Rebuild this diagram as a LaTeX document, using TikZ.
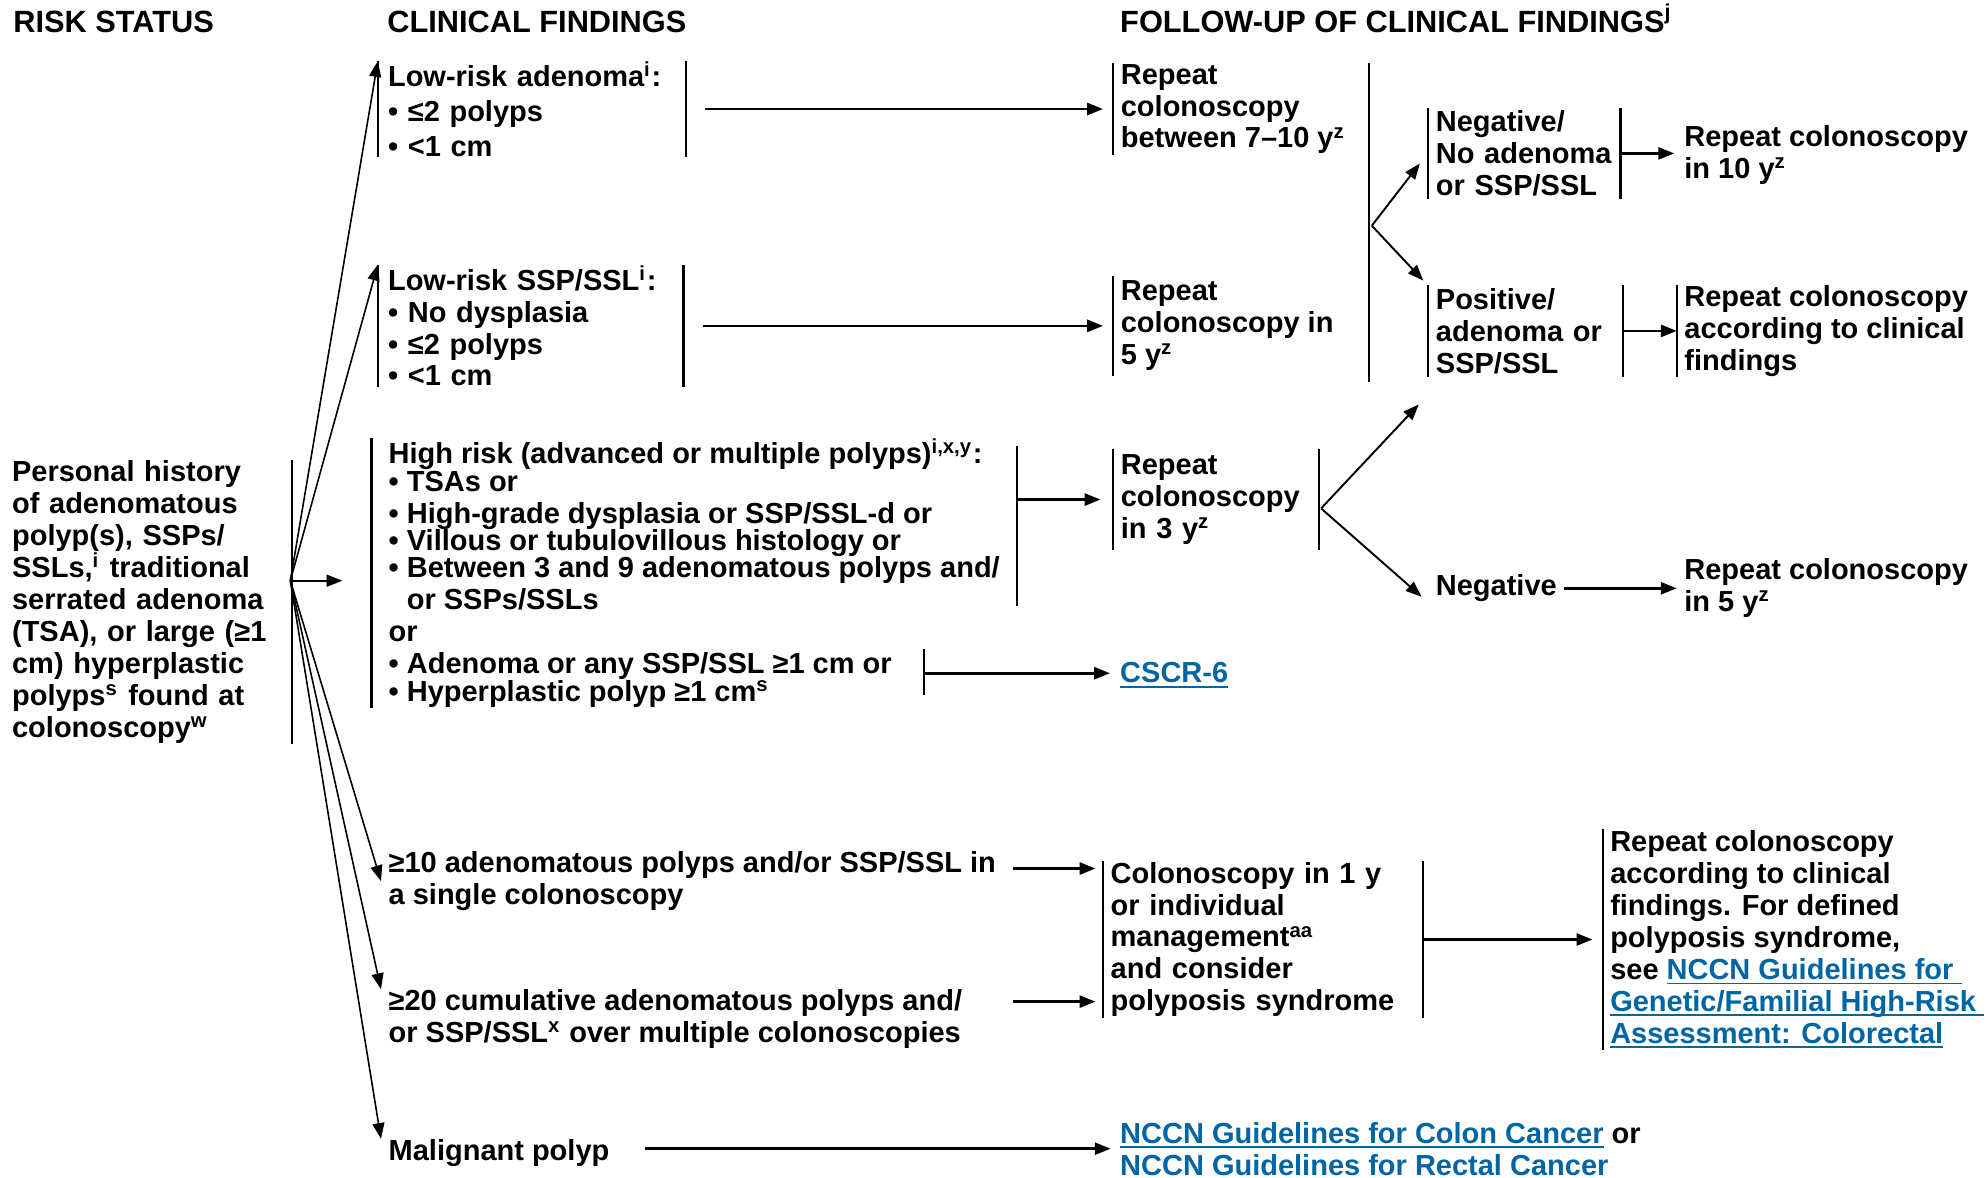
\documentclass[tikz,border=0pt]{standalone}
\usepackage{fontspec}
\setmainfont{Liberation Sans}
\usetikzlibrary{arrows.meta}
\definecolor{linkblue}{RGB}{0,101,163}
\newlength{\pxu}\setlength{\pxu}{0.12679mm}
\newcommand{\nodefont}{\fontsize{8.25}{9.1}\selectfont\bfseries}
% link text: blue, underlined at a fixed depth
\newcommand{\lnk}[1]{\textcolor{linkblue}{\setbox0\hbox{#1}\rlap{\rule[-1.3pt]{\wd0}{0.5pt}}\box0}}
\tikzset{
	txt/.style={font=\nodefont, align=left, anchor=west, inner xsep=5.5\pxu, inner ysep=0pt},
	head/.style={font=\fontsize{8.75}{10}\selectfont\bfseries, anchor=base west, inner sep=0pt},
	bar/.style={draw, line width=0.6pt},
	lbar/.style={append after command={(\tikzlastnode.north west) edge[bar] (\tikzlastnode.south west)}},
	rbar/.style={append after command={(\tikzlastnode.north east) edge[bar] (\tikzlastnode.south east)}},
	arr/.style={-{Triangle[length=4.5pt,width=3.4pt]}, line width=0.75pt},
	fanarr/.style={arr, line width=0.45pt},
	brarr/.style={arr, line width=0.55pt}
}
\begin{document}
\begin{tikzpicture}[x=0.12679mm, y=-0.12679mm]
	\useasboundingbox (0,0) rectangle (1568,929);
	% headings
	\node[head] (hRisk) at (10,26) {RISK STATUS};
	\node[head] (hFind) at (305,26) {CLINICAL FINDINGS};
	\node[head] (hFollow) at (883,26) {FOLLOW-UP OF CLINICAL FINDINGS\textsuperscript{j}};
	% risk status
	\node[txt, rbar, inner xsep=5\pxu, text width=215\pxu, minimum height=222\pxu] (hist) at (4,475)
		{Personal history\\of adenomatous\\polyp(s), SSPs/\\SSLs,\textsuperscript{i} traditional\\serrated adenoma\\(TSA), or large (≥1\\cm) hyperplastic\\polyps\textsuperscript{s} found at\\colonoscopy\textsuperscript{w}};
	\coordinate (fan) at (229,458);
	% clinical findings
	\node[txt, lbar, rbar, inner xsep=7.5\pxu, text width=227\pxu, minimum height=72\pxu] (lowAd) at (298,86)
		{Low-risk adenoma\textsuperscript{i}:\\[0.8pt]• ≤2 polyps\\[0.8pt]• <1 cm};
	\node[txt, lbar, rbar, inner xsep=7.5\pxu, text width=225\pxu, minimum height=92\pxu] (lowSsp) at (298,257)
		{Low-risk SSP/SSL\textsuperscript{i}:\\• No dysplasia\\• ≤2 polyps\\• <1 cm};
	\node[txt, lbar, inner xsep=13\pxu, minimum height=204\pxu] (high) at (293,452)
		{High risk (advanced or multiple polyps)\textsuperscript{i,x,y}:\\[-1.1pt]
		• TSAs or\\
		• High-grade dysplasia or SSP/SSL-d or\\[-1.4pt]
		• Villous or tubulovillous histology or\\[-1.4pt]
		• Between 3 and 9 adenomatous polyps and/\\
		\phantom{• }or SSPs/SSLs\\
		or\\
		• Adenoma or any SSP/SSL ≥1 cm or\\[-1.1pt]
		• Hyperplastic polyp ≥1 cm\textsuperscript{s}};
	\draw[bar] (802,352) -- (802,478);
	\draw[bar] (729,512) -- (729,548);
	\coordinate (highA) at (802,394);
	\coordinate (highB) at (729,531);
	\node[txt] (ten) at (300.5,695) {≥10 adenomatous polyps and/or SSP/SSL in\\a single colonoscopy};
	\node[txt] (twenty) at (300.5,804) {≥20 cumulative adenomatous polyps and/\\or SSP/SSL\textsuperscript{x} over multiple colonoscopies};
	\node[txt] (malig) at (300.5,909.5) {Malignant polyp};
	\coordinate (tenOut) at (799,685);
	\coordinate (twentyOut) at (799,790);
	\coordinate (maligOut) at (509,906);
	% follow-up
	\node[txt, lbar, minimum height=71\pxu] (rep710) at (878,86) {Repeat\\colonoscopy\\between 7–10 y\textsuperscript{z}};
	\node[txt, lbar, minimum height=78\pxu] (rep5) at (878,257) {Repeat\\colonoscopy in\\5 y\textsuperscript{z}};
	\node[txt, lbar, rbar, text width=150\pxu, minimum height=78\pxu] (rep3) at (878,394) {Repeat\\colonoscopy\\in 3 y\textsuperscript{z}};
	\node[txt] (cscr) at (877.5,532.5) {\lnk{CSCR-6}};
	\draw[bar] (1080,50) -- (1080,301);
	\coordinate (fu) at (1082,178);
	\node[txt, lbar, rbar, inner xsep=6\pxu, text width=139\pxu, minimum height=71\pxu] (neg) at (1126,121)
		{Negative/\\No adenoma\\or SSP/SSL};
	\node[txt, lbar, rbar, inner xsep=6\pxu, text width=141\pxu, minimum height=71\pxu] (pos) at (1126,261)
		{Positive/\\adenoma or\\SSP/SSL};
	\node[txt] (rep10) at (1322.5,122.5) {Repeat colonoscopy\\in 10 y\textsuperscript{z}};
	\node[txt, lbar, minimum height=71\pxu] (repPos) at (1322.5,261) {Repeat colonoscopy\\according to clinical\\findings};
	\coordinate (rep3b) at (1042,401);
	\coordinate (rep3up) at (1119,319);
	\node[txt] (negB) at (1126.5,464) {Negative};
	\node[txt] (rep5b) at (1322.5,464) {Repeat colonoscopy\\in 5 y\textsuperscript{z}};
	\node[txt, lbar, rbar, text width=240\pxu, minimum height=121\pxu] (colo1) at (870,741)
		{Colonoscopy in 1 y\\or individual\\management\textsuperscript{aa}\\and consider\\polyposis syndrome};
	\node[txt, lbar, minimum height=173\pxu] (repDef) at (1264,741)
		{Repeat colonoscopy\\according to clinical\\findings. For defined\\polyposis syndrome,\\see \lnk{NCCN Guidelines for\ }\\\lnk{Genetic/Familial High-Risk\ }\\\lnk{Assessment: Colorectal}};
	\node[txt] (nccn) at (877.5,908) {\lnk{NCCN Guidelines for Colon Cancer} or\\\lnk{NCCN Guidelines for Rectal Cancer}};
	% arrows
	\draw[fanarr] (fan) -- (lowAd.north west);
	\draw[fanarr] (fan) -- (lowSsp.north west);
	\draw[arr, line width=0.6pt, shorten >=23\pxu] (fan) -- (fan -| high.west);
	\draw[fanarr] (fan) -- (ten.west);
	\draw[fanarr] (fan) -- (twenty.north west);
	\draw[fanarr] (fan) -- (malig.north west);
	\draw[arr, shorten <=15\pxu, shorten >=8\pxu] (lowAd.east) -- (lowAd.east -| rep710.west);
	\draw[arr, shorten <=15\pxu, shorten >=8\pxu] (lowSsp.east) -- (lowSsp.east -| rep5.west);
	\draw[arr, shorten >=10\pxu] (highA) -- (highA -| rep3.west);
	\draw[arr, shorten >=2\pxu] (highB) -- (highB -| cscr.west);
	\draw[brarr, shorten >=10\pxu] (fu) -- (neg.west);
	\draw[brarr, shorten >=5\pxu] (fu) -- (pos.north west);
	\draw[arr, shorten >=2\pxu] (neg.east) -- (neg.east -| rep10.west);
	\draw[arr] (pos.east) -- (pos.east -| repPos.west);
	\draw[brarr] (rep3b) -- (rep3up);
	\draw[brarr, shorten >=7\pxu] (rep3b) -- (negB.south west);
	\draw[arr] (negB.east) -- (negB.east -| rep5b.west);
	\draw[arr, shorten >=6\pxu] (tenOut) -- (tenOut -| colo1.west);
	\draw[arr, shorten >=6\pxu] (twentyOut) -- (twentyOut -| colo1.west);
	\draw[arr, shorten >=8\pxu] (colo1.east) -- (colo1.east -| repDef.west);
	\draw[arr, shorten >=1.5\pxu] (maligOut) -- (maligOut -| nccn.west);
\end{tikzpicture}
\end{document}
